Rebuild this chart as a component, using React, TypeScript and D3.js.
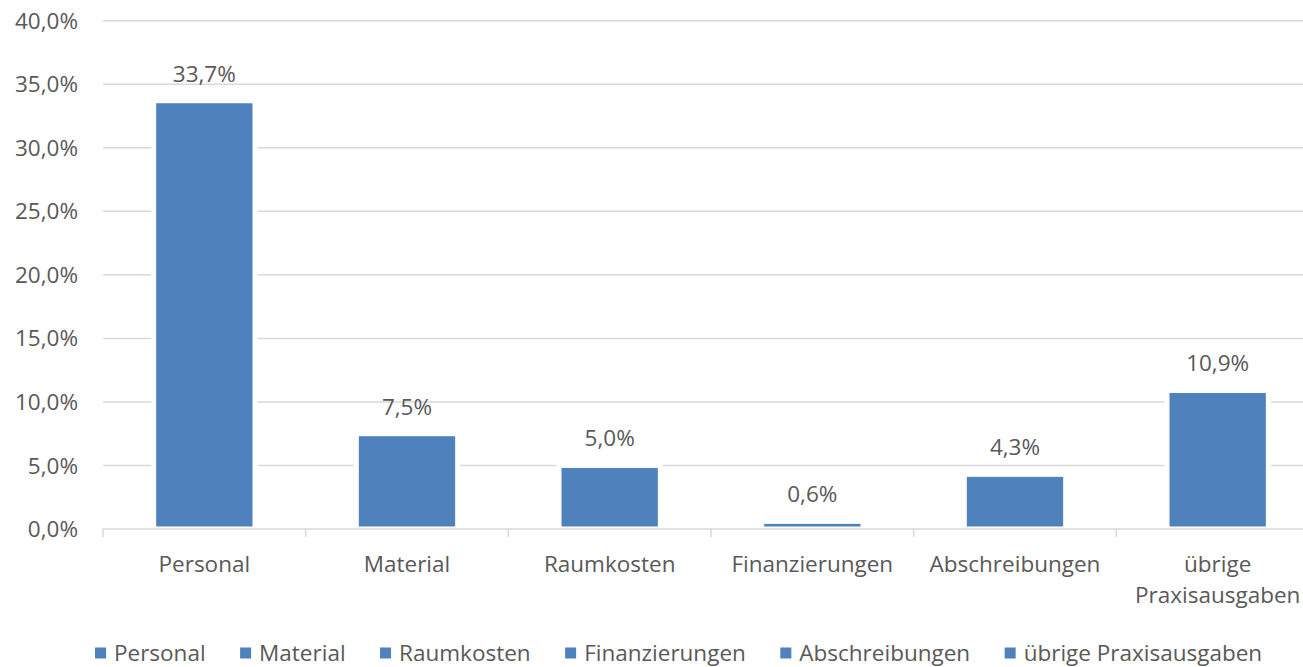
import React, { useEffect, useRef } from 'react';
import * as d3 from 'd3';

const categories = ['Personal', 'Material', 'Raumkosten', 'Finanzierungen', 'Abschreibungen', 'übrige Praxisausgaben'];
const shares = [33.7, 7.5, 5.0, 0.6, 4.3, 10.9];
const yTicks = [0, 5, 10, 15, 20, 25, 30, 35, 40];

const WIDTH = 1303;
const HEIGHT = 667;
const FONT = '"Open Sans", sans-serif';
const TEXT = '#595959';
const GRID = '#d9d9d9';
const BAR = '#4f81bd';

const fmt = (v: number) => v.toFixed(1).replace('.', ',') + '%';

const App: React.FC = () => {
  const ref = useRef<SVGSVGElement>(null);

  useEffect(() => {
    const svg = d3.select(ref.current);
    svg.selectAll('*').remove();

    const left = 103;
    const right = 1319;
    const top = 20.7;
    const bottom = 529;

    const x = d3.scaleBand<string>().domain(categories).range([left, right]).paddingInner(0.5).paddingOuter(0.25);
    const y = d3.scaleLinear().domain([0, 40]).range([bottom, top]);
    const step = x.step();

    const g = svg.append('g').style('font-family', FONT).style('font-size', '22.5px');

    // gridlines
    g.append('g')
      .selectAll('line')
      .data(yTicks.filter(d => d > 0))
      .enter()
      .append('line')
      .attr('x1', left)
      .attr('x2', right)
      .attr('y1', d => y(d))
      .attr('y2', d => y(d))
      .attr('stroke', GRID)
      .attr('stroke-width', 1.5);

    // y labels
    g.append('g')
      .selectAll('text')
      .data(yTicks)
      .enter()
      .append('text')
      .attr('x', 78)
      .attr('y', d => y(d))
      .attr('dy', '0.36em')
      .attr('text-anchor', 'end')
      .attr('fill', TEXT)
      .text(d => fmt(d));

    // bars
    g.append('g')
      .selectAll('rect')
      .data(shares)
      .enter()
      .append('rect')
      .attr('x', (d, i) => x(categories[i])!)
      .attr('width', x.bandwidth())
      .attr('y', d => y(d))
      .attr('height', d => y(0) - y(d))
      .attr('fill', BAR)
      .attr('stroke', '#fff')
      .attr('stroke-width', 5);

    // value labels
    g.append('g')
      .selectAll('text')
      .data(shares)
      .enter()
      .append('text')
      .attr('x', (d, i) => x(categories[i])! + x.bandwidth() / 2)
      .attr('y', d => y(d) - 19)
      .attr('text-anchor', 'middle')
      .attr('fill', TEXT)
      .text(d => fmt(d));

    // x axis line + ticks
    const axis = g.append('g');
    axis.append('line')
      .attr('x1', left).attr('x2', right)
      .attr('y1', bottom).attr('y2', bottom)
      .attr('stroke', GRID).attr('stroke-width', 1.5);
    axis.selectAll('line.tick')
      .data(d3.range(categories.length + 1))
      .enter()
      .append('line')
      .attr('class', 'tick')
      .attr('x1', i => left + i * step)
      .attr('x2', i => left + i * step)
      .attr('y1', bottom)
      .attr('y2', bottom + 8)
      .attr('stroke', GRID)
      .attr('stroke-width', 1.5);

    // category labels, wrapped to band width
    categories.forEach((c, i) => {
      const cx = x(c)! + x.bandwidth() / 2;
      const t = axis.append('text')
        .attr('x', cx)
        .attr('y', 571.7)
        .attr('text-anchor', 'middle')
        .attr('fill', TEXT)
        .text(c);
      const w = (t.node() as SVGTextElement).getComputedTextLength();
      if (w > step - 10) {
        const words = c.split(' ');
        t.text(null);
        words.forEach((word, k) => {
          t.append('tspan').attr('x', cx).attr('dy', k === 0 ? 0 : 31.6).text(word);
        });
      }
    });

    // legend
    const legend = g.append('g');
    let lx = 95;
    categories.forEach(c => {
      legend.append('rect')
        .attr('x', lx).attr('y', 647.5)
        .attr('width', 11).attr('height', 11)
        .attr('fill', BAR);
      const t = legend.append('text')
        .attr('x', lx + 19)
        .attr('y', 660.9)
        .attr('fill', TEXT)
        .text(c);
      const w = (t.node() as SVGTextElement).getComputedTextLength();
      lx += 19 + w + 34.5;
    });
  }, []);

  return (
    <div style={{ position: 'absolute', left: 0, top: 0 }}>
      <svg ref={ref} width={WIDTH} height={HEIGHT} style={{ display: 'block', background: '#fff' }} />
    </div>
  );
};

export default App;
